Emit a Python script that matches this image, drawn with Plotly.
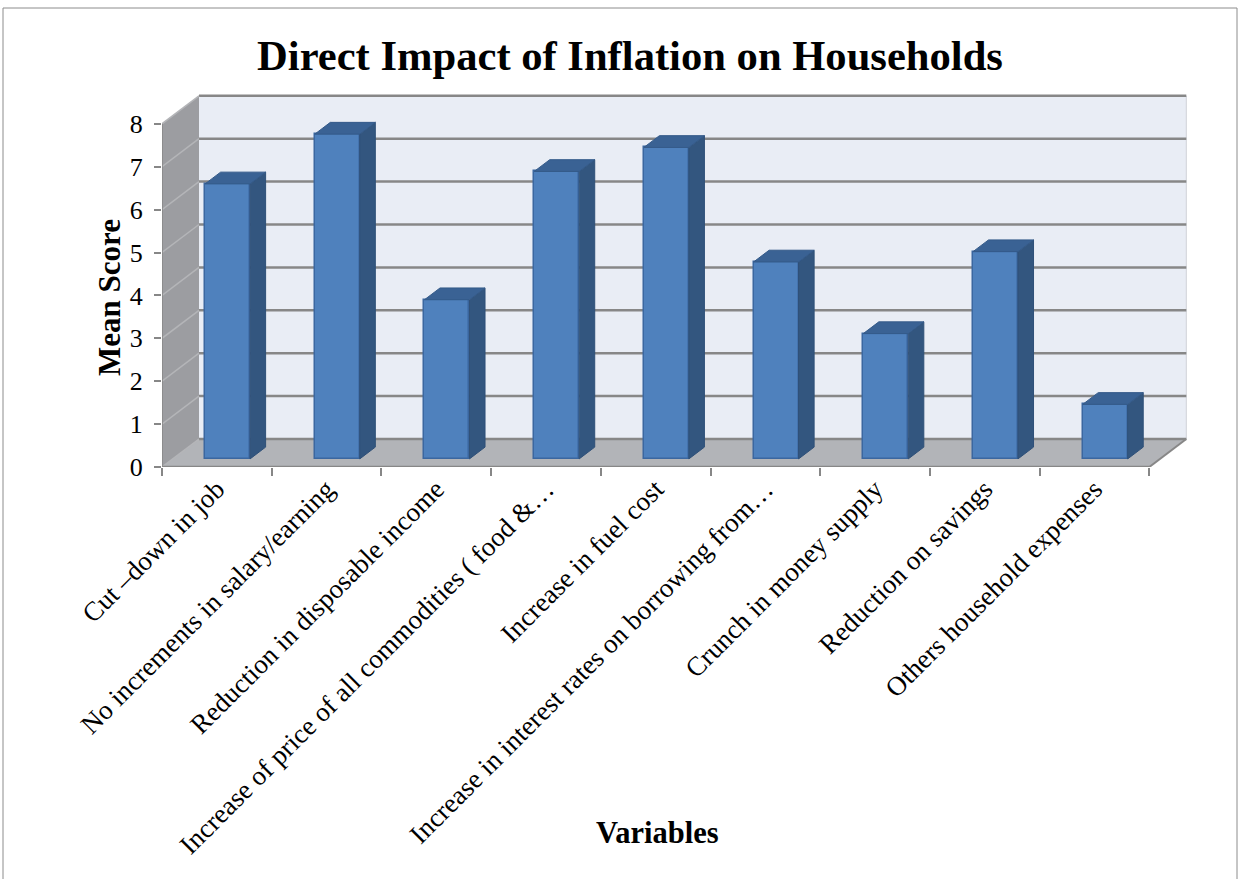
import plotly.graph_objects as go
import numpy as np

# ---------------- data ----------------
categories = [
    "Cut \u2013down in job",
    "No increments in salary/earning",
    "Reduction in disposable income",
    "Increase of price of all commodities ( food &\u2026",
    "Increase in fuel cost",
    "Increase in interest rates on borrowing from\u2026",
    "Crunch in money supply",
    "Reduction on savings",
    "Others household expenses",
]
mean_scores = [6.41, 7.57, 3.71, 6.70, 7.26, 4.59, 2.92, 4.83, 1.27]
y_ticks = [0, 1, 2, 3, 4, 5, 6, 7, 8]

title_text = "Direct Impact of Inflation on Households"
x_title = "Variables"
y_title = "Mean Score"

# ---------------- geometry ----------------
W, H = 1241, 879
L_PX, R_PX, T_PX, B_PX = 162, 1190, 90, 467
PPX, PPY = 109.7, 42.9
n = len(categories)
x_lo = -0.5
x_front_hi = n - 0.5
x_hi = x_lo + (R_PX - L_PX) / PPX
y_hi = (B_PX - T_PX) / PPY
DX, DY = 37 / PPX, 28 / PPY          # oblique depth offset (full depth)
D_FRONT, D_BACK = 0.29, 0.71          # bar depth span
BAR_W = 45 / PPX
offset = D_FRONT * DX - BAR_W / 2
base = D_FRONT * DY
ddx, ddy = (D_BACK - D_FRONT) * DX, (D_BACK - D_FRONT) * DY
y_max_tick = max(y_ticks)

FONT = "Times New Roman, Liberation Serif, serif"
GRID = "#878787"

idx = np.arange(n)

fig = go.Figure()

# front faces
fig.add_trace(go.Bar(
    x=idx, y=mean_scores, base=base, width=BAR_W, offset=offset,
    marker=dict(color="#4f81bd", line=dict(color="#3b67a0", width=1.5)),
    showlegend=False, hoverinfo="skip",
))

# side and top faces
for i, v in enumerate(mean_scores):
    xl = i + offset
    xr = xl + BAR_W
    top = v + base
    fig.add_trace(go.Scatter(
        x=[xr, xr + ddx, xr + ddx, xr, xr],
        y=[base, base + ddy, top + ddy, top, base],
        mode="lines", fill="toself", fillcolor="#33567f",
        line=dict(color="#2f5078", width=1), showlegend=False, hoverinfo="skip",
    ))
    fig.add_trace(go.Scatter(
        x=[xl, xr, xr + ddx, xl + ddx, xl],
        y=[top, top, top + ddy, top + ddy, top],
        mode="lines", fill="toself", fillcolor="#3a6294",
        line=dict(color="#345a89", width=1), showlegend=False, hoverinfo="skip",
    ))

shapes = []
# left wall
shapes.append(dict(type="path", layer="below",
                   path=f"M {x_lo},0 L {x_lo},{y_max_tick} L {x_lo+DX},{y_max_tick+DY} L {x_lo+DX},{DY} Z",
                   fillcolor="#9c9da1", line=dict(width=0)))
# floor
shapes.append(dict(type="path", layer="below",
                   path=f"M {x_lo},0 L {x_front_hi},0 L {x_front_hi+DX},{DY} L {x_lo+DX},{DY} Z",
                   fillcolor="#b2b4b8", line=dict(width=0)))
# back wall
shapes.append(dict(type="rect", layer="below", x0=x_lo + DX, x1=x_front_hi + DX,
                   y0=DY, y1=y_max_tick + DY, fillcolor="#e9edf5", line=dict(width=0)))
# back wall right edge
shapes.append(dict(type="line", layer="below", x0=x_front_hi + DX, x1=x_front_hi + DX,
                   y0=DY, y1=y_max_tick + DY, line=dict(color="#d0d3d8", width=1)))
# grid lines on back wall and left wall
for v in y_ticks:
    shapes.append(dict(type="line", layer="below", x0=x_lo + DX, x1=x_front_hi + DX,
                       y0=v + DY, y1=v + DY, line=dict(color=GRID, width=2.5)))
    shapes.append(dict(type="line", layer="below", x0=x_lo, x1=x_lo + DX,
                       y0=v, y1=v + DY, line=dict(color="#b4b5b8", width=1.5)))
# front vertical axis edge
shapes.append(dict(type="line", layer="below", x0=x_lo, x1=x_lo, y0=0, y1=y_max_tick,
                   line=dict(color=GRID, width=1.5)))
# floor front and right edges
shapes.append(dict(type="line", layer="below", x0=x_lo, x1=x_front_hi, y0=0, y1=0,
                   line=dict(color=GRID, width=2.5)))
shapes.append(dict(type="line", layer="below", x0=x_front_hi, x1=x_front_hi + DX, y0=0, y1=DY,
                   line=dict(color=GRID, width=2)))

# outer chart border (paper coords)
pw, ph = R_PX - L_PX, B_PX - T_PX
def px_x(p):
    return (p - L_PX) / pw
def px_y(p):
    return (B_PX - p) / ph
shapes.append(dict(type="rect", xref="paper", yref="paper", layer="below",
                   x0=px_x(3), x1=px_x(1237), y0=px_y(885), y1=px_y(8),
                   line=dict(color="#8c8c8c", width=1), fillcolor="rgba(0,0,0,0)"))

annotations = [
    dict(text=y_title, xref="paper", yref="paper", x=px_x(109), y=px_y(298),
         xanchor="center", yanchor="middle", textangle=-90, showarrow=False,
         font=dict(family=FONT, size=31, color="black", weight="bold")),
    dict(text=x_title, xref="paper", yref="paper", x=px_x(657), y=px_y(833),
         xanchor="center", yanchor="middle", showarrow=False,
         font=dict(family=FONT, size=30.5, color="black", weight="bold")),
]

fig.update_layout(
    width=W, height=H,
    margin=dict(l=L_PX, r=W - R_PX, t=T_PX, b=H - B_PX, pad=0),
    paper_bgcolor="white", plot_bgcolor="white",
    title=dict(text=title_text, x=630 / W, y=1 - 55 / H, xanchor="center", yanchor="middle",
               font=dict(family=FONT, size=42.6, color="black", weight="bold")),
    shapes=shapes, annotations=annotations,
    showlegend=False, bargap=0,
    xaxis=dict(range=[x_lo, x_hi], tickvals=list(idx), ticktext=categories,
               tickangle=-45, ticks="", showgrid=False, zeroline=False, showline=False,
               tickfont=dict(family=FONT, size=27, color="black"),
               minor=dict(tickvals=[k - 0.5 for k in range(n + 1)], ticks="outside",
                          ticklen=8, tickwidth=1.5, tickcolor=GRID, showgrid=False),
               fixedrange=True),
    yaxis=dict(range=[0, y_hi], tickvals=y_ticks, ticks="outside", ticklen=7,
               tickwidth=1.5, tickcolor=GRID, showgrid=False, zeroline=False, showline=False,
               tickfont=dict(family=FONT, size=26, color="black"), ticklabelstandoff=6,
               fixedrange=True),
)

fig.write_html("out.html")
